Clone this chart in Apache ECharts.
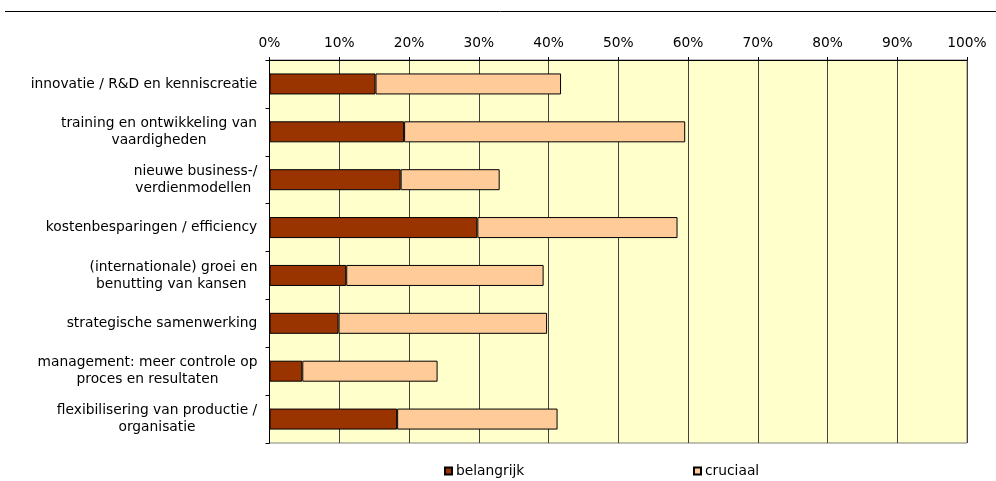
<!DOCTYPE html>
<html><head><meta charset="utf-8">
<script src="https://cdn.jsdelivr.net/npm/echarts@6/dist/echarts.min.js"></script>
<style>html,body{margin:0;padding:0;background:#fff}#c{width:996px;height:481px}</style>
</head><body><div id="c"></div>
<script>
const categories = [
  "innovatie / R&D en kenniscreatie",
  "training en ontwikkeling van\nvaardigheden",
  "nieuwe business-/\nverdienmodellen ",
  "kostenbesparingen / efficiency",
  "(internationale) groei en\nbenutting van kansen ",
  "strategische samenwerking",
  "management: meer controle op\nproces en resultaten",
  "flexibilisering van productie /\norganisatie"
];
const belangrijk = [15.2, 19.3, 18.8, 29.8, 11.0, 9.9, 4.7, 18.3];
const cruciaal = [26.6, 40.3, 14.2, 28.7, 28.3, 29.9, 19.4, 23.0];
const seriesNames = ["belangrijk", "cruciaal"];

const font = "'DejaVu Sans', Verdana, sans-serif";
const fontSize = 13.8;
const lineH = 17;

// measure label lines so multi-line labels are centred within a right-aligned block
const ctx = document.createElement('canvas').getContext('2d');
ctx.font = fontSize + "px " + font;
const rich = {};
categories.forEach((c, i) => {
  const w = Math.max(...c.split('\n').map(l => ctx.measureText(l).width));
  rich['l' + i] = {width: Math.ceil(w), align: 'center', fontFamily: font, fontSize: fontSize, color: '#000', lineHeight: lineH};
});

const chart = echarts.init(document.getElementById('c'), null, {renderer: 'canvas'});
chart.setOption({
  animation: false,
  backgroundColor: '#ffffff',
  textStyle: {fontFamily: font},
  graphic: [{
    type: 'line', shape: {x1: 5, y1: 11.5, x2: 996, y2: 11.5},
    style: {stroke: '#000', lineWidth: 1}
  }],
  grid: {
    left: 269.5, right: 29, top: 60, bottom: 38,
    show: true, backgroundColor: '#FFFFCC', borderColor: '#808080', borderWidth: 1
  },
  legend: [
    {data: [seriesNames[0]], left: 439, top: 459, icon: 'rect', itemWidth: 7, itemHeight: 7, itemGap: 4,
     textStyle: {fontFamily: font, fontSize: fontSize, color: '#000', padding: [0,0,0,-1]}},
    {data: [seriesNames[1]], left: 688, top: 459, icon: 'rect', itemWidth: 7, itemHeight: 7, itemGap: 4,
     textStyle: {fontFamily: font, fontSize: fontSize, color: '#000', padding: [0,0,0,-1]}}
  ],
  xAxis: {
    type: 'value', position: 'top', min: 0, max: 100, interval: 10,
    axisLine: {show: true, lineStyle: {color: '#000', width: 1}},
    axisTick: {show: true, length: 3, lineStyle: {color: '#000'}},
    axisLabel: {formatter: '{value}%', fontFamily: font, fontSize: fontSize, color: '#000', margin: 10},
    splitLine: {show: true, lineStyle: {color: '#404040', width: 1}}
  },
  yAxis: {
    type: 'category', data: categories, inverse: true,
    axisLine: {show: true, lineStyle: {color: '#000', width: 1}},
    axisTick: {show: true, length: 4, lineStyle: {color: '#000'}},
    axisLabel: {
      fontFamily: font, fontSize: fontSize, color: '#000', margin: 12, lineHeight: lineH, align: 'right',
      formatter: (v, i) => v.split('\n').map(l => '{l' + i + '|' + l + '}').join('\n'),
      rich: rich
    }
  },
  series: [
    {name: seriesNames[0], type: 'bar', stack: 's', data: belangrijk, barWidth: 21,
     itemStyle: {color: '#993300', borderColor: '#000', borderWidth: 1}},
    {name: seriesNames[1], type: 'bar', stack: 's', data: cruciaal, barWidth: 21,
     itemStyle: {color: '#FFCC99', borderColor: '#000', borderWidth: 1}}
  ]
});
</script></body></html>
